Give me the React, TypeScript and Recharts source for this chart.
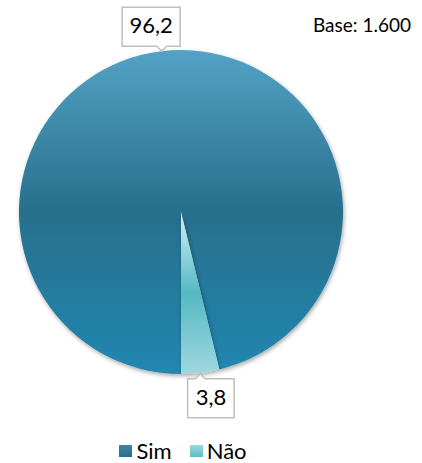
import { PieChart, Pie, Cell, Legend } from "recharts";

const categories = ["Sim", "Não"];
const values = [96.2, 3.8];
const baseLabel = "Base: 1.600";

const gradients = [
  { id: "gradSim", stops: ["#53a2c5", "#276f8c", "#2287b0"] },
  { id: "gradNao", stops: ["#d2f0f2", "#55b9c4", "#9fd7dd"] },
];
const legendColors = [
  ["#3b86a6", "#2a6f8c"],
  ["#9fd8de", "#5dbcc6"],
];

const data = categories.map((name, i) => ({ name, value: values[i] }));
const RAD = Math.PI / 180;
const FONT = "Lato, 'Open Sans', sans-serif";

const fmt = (v: number) => v.toFixed(1).replace(".", ",");

function CalloutLabel(props: any) {
  const { cx, cy, midAngle, outerRadius, value } = props;
  const tx = cx + outerRadius * Math.cos(-midAngle * RAD);
  const ty = cy + outerRadius * Math.sin(-midAngle * RAD);
  const text = fmt(value);
  const w = text.length * 11.5 + 12;
  const h = 39;
  const bx = tx + (tx - cx) * 0.55 - w / 2;
  const above = ty < cy;
  const notch = 5;
  let d: string;
  let by: number;
  if (above) {
    by = ty - notch - h;
    const y1 = by + h;
    d = `M${bx},${by} H${bx + w} V${y1} H${tx + notch} L${tx},${ty} L${tx - notch},${y1} H${bx} Z`;
  } else {
    by = ty + notch + 1;
    d = `M${bx},${by} H${tx - notch} L${tx},${ty + 1} L${tx + notch},${by} H${bx + w} V${by + h} H${bx} Z`;
  }
  return (
    <g>
      <path d={d} fill="#ffffff" stroke="#bfbfbf" strokeWidth={1.5} />
      <text
        x={bx + w / 2}
        y={by + h / 2 + 1}
        textAnchor="middle"
        dominantBaseline="middle"
        fontFamily={FONT}
        fontSize={22}
        fill="#000"
      >
        {text}
      </text>
    </g>
  );
}

function LegendContent() {
  return (
    <div
      style={{
        display: "flex",
        justifyContent: "center",
        gap: 18,
        fontFamily: FONT,
        fontSize: 22,
        color: "#000",
        paddingRight: 56,
      }}
    >
      {categories.map((c, i) => (
        <div key={c} style={{ display: "flex", alignItems: "center", gap: 4 }}>
          <span
            style={{
              width: 13,
              height: 12,
              display: "inline-block",
              background: `linear-gradient(${legendColors[i][0]}, ${legendColors[i][1]})`,
            }}
          />
          <span>{c}</span>
        </div>
      ))}
    </div>
  );
}

export default function App() {
  const startAngle = 270 + (360 * values[1]) / 100;
  return (
    <div style={{ position: "absolute", left: 0, top: 0, width: 422, height: 463, background: "#fff" }}>
      <PieChart width={422} height={463} margin={{ top: 0, right: 0, bottom: 0, left: 0 }}>
        <defs>
          {gradients.map((g) => (
            <linearGradient key={g.id} id={g.id} x1="0" y1="0" x2="0" y2="1">
              <stop offset="0%" stopColor={g.stops[0]} />
              <stop offset="50%" stopColor={g.stops[1]} />
              <stop offset="100%" stopColor={g.stops[2]} />
            </linearGradient>
          ))}
          <filter id="pieShadow" x="-10%" y="-10%" width="120%" height="120%">
            <feDropShadow dx="1" dy="2" stdDeviation="2" floodColor="#000" floodOpacity="0.35" />
          </filter>
        </defs>
        <Pie
          data={data}
          dataKey="value"
          nameKey="name"
          cx={181}
          cy={212}
          outerRadius={162}
          startAngle={startAngle}
          endAngle={startAngle + 360}
          stroke="none"
          label={CalloutLabel}
          labelLine={false}
          isAnimationActive={false}
        >
          {data.map((d, i) => (
            <Cell key={d.name} fill={`url(#${gradients[i].id})`} filter="url(#pieShadow)" />
          ))}
        </Pie>
        <Legend
          content={LegendContent}
          wrapperStyle={{ position: "absolute", left: 0, top: 437, width: 422 }}
        />
        <text x={362} y={32} textAnchor="middle" fontFamily={FONT} fontSize={19} fill="#000">
          {baseLabel}
        </text>
      </PieChart>
    </div>
  );
}
